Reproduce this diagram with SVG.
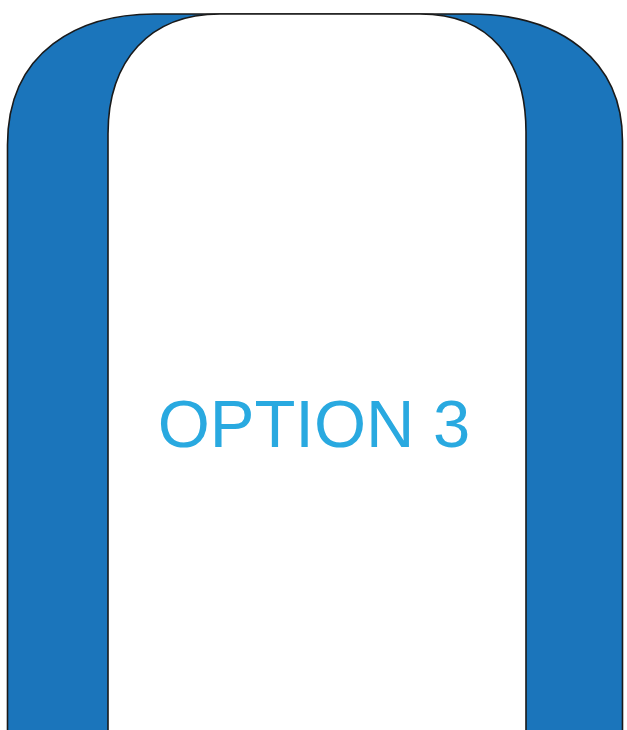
<svg xmlns="http://www.w3.org/2000/svg" width="627" height="730" viewBox="0 0 627 730">
<style>
.edge{stroke:#1a1a1a;stroke-width:1.6;}
.label{font-family:"Liberation Sans",Arial,sans-serif;font-size:67px;fill:#29a9e0;}
</style>
<rect width="627" height="730" fill="#ffffff"/>
<g id="outer-arch">
<path class="edge" fill="#1b75bb" d="M7.5,745 V145 C7.5,50 80,14 154.5,14 H470 C560,14 622.5,60 622.5,141 V745 Z"/>
</g>
<g id="inner-arch">
<path class="edge" fill="#ffffff" d="M108,745 V134 C108,60 150,14 220,14 H420 C490,14 526,60 526,132 V745 Z"/>
<text class="label" x="314" y="447" text-anchor="middle">OPTION 3</text>
</g>
<g id="connectors"></g>
</svg>
